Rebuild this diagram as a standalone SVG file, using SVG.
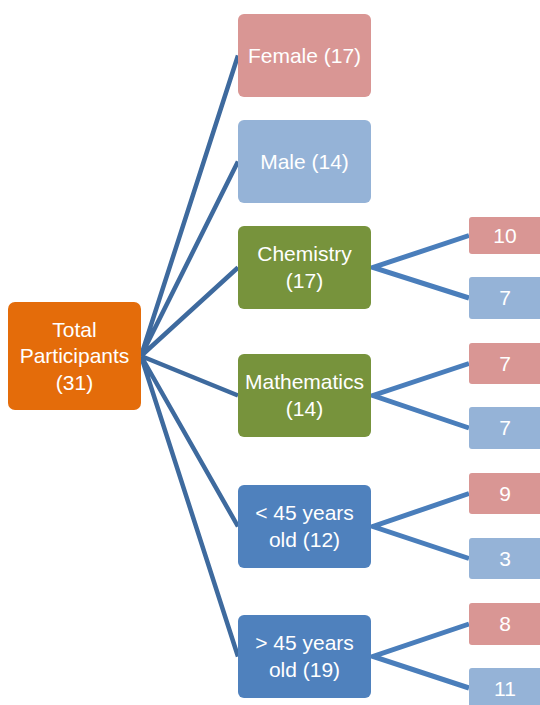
<svg xmlns="http://www.w3.org/2000/svg" width="540" height="705" viewBox="0 0 540 705">
<style>
text{font-family:"Liberation Sans",Arial,sans-serif;font-size:21px;fill:#fff;text-anchor:middle}
.main{stroke:#3e6a9e;stroke-width:4.5;fill:none}
.sub{stroke:#4a7ebb;stroke-width:5;fill:none}
.org{fill:#e46c0a}.pink{fill:#d99694}.lb{fill:#95b3d7}.grn{fill:#77933c}.db{fill:#4f81bd}
</style>
<rect width="540" height="705" fill="#fff"/>
<g id="connectors">
<path class="main" d="M141 356L238 55.5M141 356L238 161.5M141 356L238 267.5M141 356L238 395.5M141 356L238 526.5M141 356L238 656.5"/>
<path class="sub" d="M469 235.5L373 267.5L469 298M469 363.5L373 395.5L469 428M469 493.5L373 526.5L469 558.5M469 624L373 656.5L469 688"/>
</g>
<g id="total"><rect class="org" x="8" y="302" width="133" height="108" rx="7"/><text x="74.5" y="337">Total</text><text x="74.5" y="363">Participants</text><text x="74.5" y="390">(31)</text></g>
<g id="female"><rect class="pink" x="238" y="14" width="133" height="83" rx="6"/><text x="304.5" y="63">Female (17)</text></g>
<g id="male"><rect class="lb" x="238" y="120" width="133" height="83" rx="6"/><text x="304.5" y="169">Male (14)</text></g>
<g id="chemistry"><rect class="grn" x="238" y="226" width="133" height="83" rx="6"/><text x="304.5" y="261">Chemistry</text><text x="304.5" y="288">(17)</text></g>
<g id="mathematics"><rect class="grn" x="238" y="354" width="133" height="83" rx="6"/><text x="304.5" y="389">Mathematics</text><text x="304.5" y="416">(14)</text></g>
<g id="under45"><rect class="db" x="238" y="485" width="133" height="83" rx="6"/><text x="304.5" y="520">&lt; 45 years</text><text x="304.5" y="547">old (12)</text></g>
<g id="over45"><rect class="db" x="238" y="615" width="133" height="83" rx="6"/><text x="304.5" y="650">&gt; 45 years</text><text x="304.5" y="677">old (19)</text></g>
<g id="chem-f"><rect class="pink" x="469" y="217" width="76" height="37" rx="3"/><text x="505" y="243">10</text></g>
<g id="chem-m"><rect class="lb" x="469" y="277" width="76" height="42" rx="3"/><text x="505" y="305">7</text></g>
<g id="math-f"><rect class="pink" x="469" y="343" width="76" height="41" rx="3"/><text x="505" y="371">7</text></g>
<g id="math-m"><rect class="lb" x="469" y="407" width="76" height="42" rx="3"/><text x="505" y="435">7</text></g>
<g id="u45-f"><rect class="pink" x="469" y="473" width="76" height="41" rx="3"/><text x="505" y="501">9</text></g>
<g id="u45-m"><rect class="lb" x="469" y="538" width="76" height="41" rx="3"/><text x="505" y="566">3</text></g>
<g id="o45-f"><rect class="pink" x="469" y="603" width="76" height="42" rx="3"/><text x="505" y="631">8</text></g>
<g id="o45-m"><rect class="lb" x="469" y="668" width="76" height="42" rx="3"/><text x="505" y="696">11</text></g>
</svg>
